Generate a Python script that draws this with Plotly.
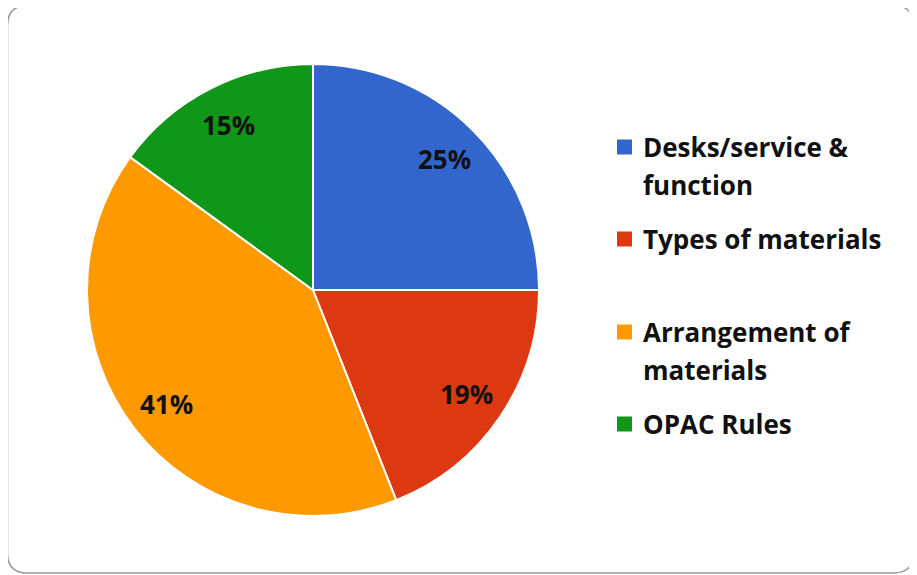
import math
import plotly.graph_objects as go

W, H = 917, 575
OFF = 8  # page body margin offset

categories = ["Desks/service & function", "Types of materials", "Arrangement of materials", "OPAC Rules"]
legend_lines = [["Desks/service &", "function"], ["Types of materials"], ["Arrangement of", "materials"], ["OPAC Rules"]]
values = [25, 19, 41, 15]
colors = ["#3366CC", "#DC3912", "#FF9900", "#109618"]

def px(x):
    return (x - OFF) / W

def py(y):
    return 1 - (y - OFF) / H

# pie geometry (pixels in screenshot)
cx, cy, R = 313, 290, 226
FONT = "'Open Sans', Lato, sans-serif"

fig = go.Figure(go.Pie(
    labels=categories, values=values, sort=False, direction="clockwise", rotation=0,
    marker=dict(colors=colors, line=dict(color="white", width=2)),
    textinfo="none", hoverinfo="label+percent", showlegend=False,
    domain=dict(x=[px(cx - R), px(cx + R)], y=[py(cy + R), py(cy - R)]),
))

annotations = []
total = sum(values)
cum = 0
for v in values:
    mid = (cum + v / 2) / total * 2 * math.pi
    cum += v
    r = 0.82 * R
    x = cx + r * math.sin(mid)
    y = cy - r * math.cos(mid)
    annotations.append(dict(x=px(x), y=py(y), xref="paper", yref="paper",
                            xanchor="center", yanchor="middle",
                            text=f"<b>{round(v / total * 100)}%</b>", showarrow=False,
                            font=dict(family=FONT, size=26, color="#111")))

# manual legend
entry_y = [147, 239, 332, 424]
line_h = 38
shapes = []
for i, lines in enumerate(legend_lines):
    y0 = entry_y[i]
    shapes.append(dict(type="rect", xref="paper", yref="paper",
                       x0=px(617), x1=px(632), y0=py(y0 + 7.5), y1=py(y0 - 7.5),
                       fillcolor=colors[i], line=dict(width=0)))
    for j, t in enumerate(lines):
        annotations.append(dict(x=px(641), y=py(y0 + j * line_h), xref="paper", yref="paper",
                                xanchor="left", yanchor="middle", text=f"<b>{t}</b>",
                                showarrow=False, font=dict(family=FONT, size=26, color="#111")))

# rounded border
x0b, y0b, x1b, y1b, rr = 7.5, 5.5, 913.5, 573, 20
path = (f"M {px(x0b + rr)} {py(y0b)} L {px(x1b - rr)} {py(y0b)} "
        f"Q {px(x1b)} {py(y0b)} {px(x1b)} {py(y0b + rr)} "
        f"L {px(x1b)} {py(y1b - rr)} Q {px(x1b)} {py(y1b)} {px(x1b - rr)} {py(y1b)} "
        f"L {px(x0b + rr)} {py(y1b)} Q {px(x0b)} {py(y1b)} {px(x0b)} {py(y1b - rr)} "
        f"L {px(x0b)} {py(y0b + rr)} Q {px(x0b)} {py(y0b)} {px(x0b + rr)} {py(y0b)} Z")
shapes.append(dict(type="path", xref="paper", yref="paper", path=path,
                   line=dict(color="#9a9a9a", width=1.5), fillcolor="rgba(0,0,0,0)", layer="below"))

fig.update_layout(width=W, height=H, margin=dict(l=0, r=0, t=0, b=0),
                  paper_bgcolor="white", plot_bgcolor="white",
                  annotations=annotations, shapes=shapes)

fig.write_html("out.html")
